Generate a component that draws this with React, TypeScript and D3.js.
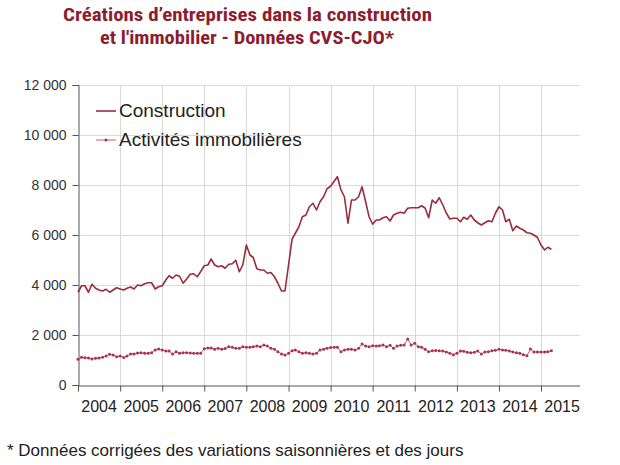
import React, { useEffect, useRef } from 'react';
import * as d3 from 'd3';

// monthly values, Jan 2004 -> Apr 2015
const construction = [
  3710, 3970, 3970, 3710, 4030, 3870, 3800, 3760, 3830, 3710, 3800, 3890, // 2004
  3840, 3800, 3870, 3920, 3840, 4000, 3970, 4050, 4090, 4090, 3840, 3930, // 2005
  3970, 4200, 4370, 4270, 4400, 4350, 4070, 4240, 4430, 4450, 4330, 4540, // 2006
  4770, 4800, 5040, 4800, 4730, 4770, 4670, 4830, 4850, 4990, 4530, 4800, // 2007
  5600, 5200, 5100, 4650, 4600, 4600, 4470, 4500, 4330, 4070, 3760, 3760, // 2008
  4800, 5840, 6070, 6330, 6730, 6800, 7130, 7270, 7000, 7330, 7530, 7850, // 2009
  7950, 8150, 8330, 7800, 7530, 6470, 7400, 7400, 7530, 7930, 7330, 6730, // 2010
  6430, 6600, 6600, 6690, 6730, 6560, 6800, 6870, 6910, 6870, 7070, 7090, // 2011
  7090, 7090, 7170, 7070, 6690, 7400, 7270, 7490, 7200, 6880, 6640, 6670, // 2012
  6670, 6530, 6710, 6630, 6800, 6600, 6490, 6400, 6490, 6570, 6530, 6870, // 2013
  7130, 7000, 6530, 6630, 6170, 6360, 6270, 6200, 6090, 6070, 6000, 5900, // 2014
  5600, 5400, 5510, 5430, // 2015
];

const immobilier = [
  1027, 1107, 1093, 1080, 1040, 1067, 1080, 1107, 1160, 1227, 1200, 1133, // 2004
  1160, 1100, 1160, 1240, 1240, 1280, 1293, 1267, 1267, 1293, 1400, 1440, // 2005
  1400, 1360, 1360, 1240, 1333, 1267, 1293, 1293, 1280, 1267, 1267, 1267, // 2006
  1453, 1480, 1480, 1427, 1467, 1427, 1460, 1533, 1507, 1467, 1467, 1533, // 2007
  1507, 1507, 1533, 1560, 1533, 1600, 1560, 1467, 1427, 1333, 1240, 1200, // 2008
  1270, 1373, 1400, 1333, 1267, 1293, 1267, 1240, 1267, 1400, 1427, 1467, // 2009
  1500, 1507, 1507, 1333, 1400, 1427, 1427, 1400, 1467, 1640, 1560, 1533, // 2010
  1573, 1560, 1570, 1600, 1533, 1587, 1467, 1560, 1587, 1600, 1840, 1600, // 2011
  1667, 1533, 1507, 1427, 1333, 1373, 1380, 1367, 1360, 1320, 1267, 1213, // 2012
  1267, 1360, 1347, 1307, 1293, 1307, 1360, 1240, 1320, 1333, 1373, 1387, // 2013
  1427, 1400, 1387, 1360, 1320, 1293, 1267, 1213, 1173, 1440, 1320, 1320, // 2014
  1320, 1320, 1333, 1373, // 2015
];

const years = [2004, 2005, 2006, 2007, 2008, 2009, 2010, 2011, 2012, 2013, 2014, 2015];
const yTicks = [0, 2000, 4000, 6000, 8000, 10000, 12000];
const seriesNames = ['Construction', 'Activités immobilières'];
const titleLines = ['Créations d’entreprises dans la construction', "et l'immobilier - Données CVS-CJO*"];
const footnote = '* Données corrigées des variations saisonnières et des jours';

const RED = '#9a2c3c';
const PINK = '#c65a7a';
const DOT = '#a8334f';
const FONT = '"Liberation Sans", Arial, sans-serif';

const App = () => {
  const ref = useRef<SVGSVGElement>(null);

  useEffect(() => {
    const svg = d3.select(ref.current);
    svg.selectAll('*').remove();

    const start = new Date(2004, 0, 1);
    const months = construction.map((_, i) => d3.timeMonth.offset(start, i));

    const x = d3.scaleTime().domain([start, new Date(2015, 11, 1)]).range([78, 579.5]);
    const y = d3.scaleLinear().domain([0, 12000]).range([385, 85]);
    const [x0, x1] = x.range();

    const fr = d3.formatLocale({ decimal: ',', thousands: ' ', grouping: [3], currency: ['', ''] });
    const fmt = fr.format(',');

    // title
    const title = svg.append('g')
      .attr('font-family', '"Liberation Sans Narrow", "Arial Narrow", "Roboto Condensed", "Liberation Sans", sans-serif')
      .attr('font-weight', 'bold')
      .attr('font-size', 19)
      .attr('fill', '#8c1d2f')
      .attr('text-anchor', 'middle');
    title.append('text').attr('x', 247.5).attr('y', 21)
      .attr('textLength', 369).attr('lengthAdjust', 'spacingAndGlyphs').text(titleLines[0]);
    title.append('text').attr('x', 247).attr('y', 44)
      .attr('textLength', 294).attr('lengthAdjust', 'spacingAndGlyphs').text(titleLines[1]);

    // grid
    const grid = svg.append('g').attr('stroke', '#d9d9d9').attr('stroke-width', 1);
    yTicks.filter(d => d > 0).forEach(d => {
      grid.append('line').attr('x1', x0).attr('x2', x1)
        .attr('y1', Math.round(y(d)) + 0.5).attr('y2', Math.round(y(d)) + 0.5);
    });
    years.slice(1).forEach(yr => {
      const xx = Math.round(x(new Date(yr, 0, 1))) + 0.5;
      grid.append('line').attr('x1', xx).attr('x2', xx).attr('y1', y(12000)).attr('y2', y(0));
    });

    // axes
    const yAxis = svg.append('g')
      .attr('transform', `translate(${Math.round(x0) + 0.5},0)`)
      .call(d3.axisLeft(y).tickValues(yTicks).tickSize(6).tickPadding(6).tickFormat(d => fmt(d as number)));
    yAxis.selectAll('path, line').attr('stroke', '#555');
    yAxis.selectAll('text').attr('font-size', 14).attr('font-family', FONT).attr('fill', '#333');

    const xAxis = svg.append('g')
      .attr('transform', `translate(0,${Math.round(y(0)) + 0.5})`)
      .call(d3.axisBottom(x).tickValues(years.map(yr => new Date(yr, 0, 1))).tickSize(6).tickSizeOuter(0).tickFormat(() => ''));
    xAxis.selectAll('path, line').attr('stroke', '#555');

    svg.append('g')
      .attr('font-family', FONT).attr('font-size', 16).attr('fill', '#222').attr('text-anchor', 'middle')
      .selectAll('text').data(years).join('text')
      .attr('x', yr => (x(new Date(yr, 0, 1)) + x(new Date(yr + 1, 0, 1))) / 2)
      .attr('y', 412)
      .text(yr => String(yr));

    // series
    const line = d3.line<number>().x((_, i) => x(months[i])).y(d => y(d));

    svg.append('path').datum(immobilier)
      .attr('fill', 'none').attr('stroke', PINK).attr('stroke-width', 1)
      .attr('d', line);
    svg.append('g').selectAll('circle').data(immobilier).join('circle')
      .attr('cx', (_, i) => x(months[i])).attr('cy', d => y(d)).attr('r', 1.5).attr('fill', DOT);

    svg.append('path').datum(construction)
      .attr('fill', 'none').attr('stroke', RED).attr('stroke-width', 1.6).attr('stroke-linejoin', 'round')
      .attr('d', line);

    // legend
    const lg = svg.append('g').attr('font-family', FONT).attr('font-size', 19).attr('fill', '#222');
    lg.append('line').attr('x1', 96).attr('x2', 116).attr('y1', 111).attr('y2', 111)
      .attr('stroke', RED).attr('stroke-width', 1.6);
    lg.append('text').attr('x', 119).attr('y', 117).text(seriesNames[0]);
    lg.append('line').attr('x1', 96).attr('x2', 116).attr('y1', 140).attr('y2', 140)
      .attr('stroke', PINK).attr('stroke-width', 1);
    lg.append('circle').attr('cx', 106).attr('cy', 140).attr('r', 1.5).attr('fill', DOT);
    lg.append('text').attr('x', 119).attr('y', 146).text(seriesNames[1]);

    // footnote
    svg.append('text').attr('x', 7).attr('y', 456)
      .attr('font-family', FONT).attr('font-size', 17).attr('fill', '#222')
      .text(footnote);
  }, []);

  return (
    <svg ref={ref} width={620} height={465}
      style={{ position: 'absolute', left: 0, top: 0, background: '#fff' }} />
  );
};

export default App;
